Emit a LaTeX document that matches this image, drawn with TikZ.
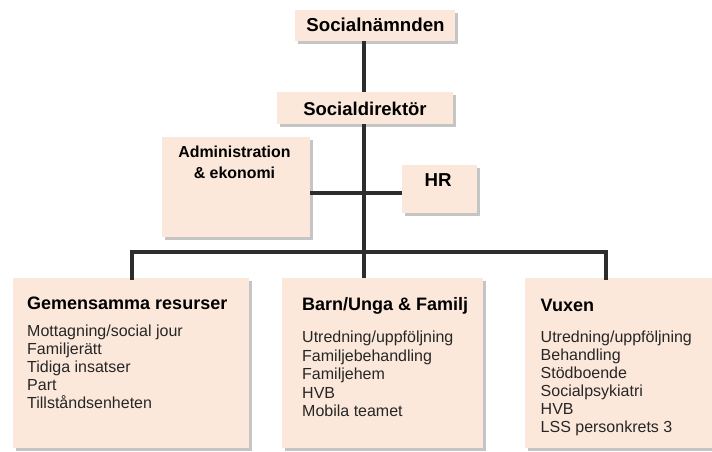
\documentclass[tikz,border=0pt]{standalone}
\usepackage{fontspec}
\setmainfont{Liberation Sans}
\usetikzlibrary{shadows}
\definecolor{peach}{RGB}{252,232,218}
\definecolor{linec}{RGB}{45,45,45}
\tikzset{
  box/.style={fill=peach, draw=none, inner sep=0pt, outer sep=0pt,
    drop shadow={shadow xshift=2.5pt, shadow yshift=-2.5pt, fill=black!45}},
  conn/.style={draw=linec, line width=3.5pt},
  head/.style={font=\fontsize{18.7}{21}\selectfont\bfseries, inner sep=0pt},
  small/.style={font=\fontsize{15.9}{19}\selectfont\bfseries, inner sep=0pt},
  ttl/.style={font=\fontsize{18}{21}\selectfont\bfseries, inner sep=0pt, anchor=base west},
  item/.style={font=\fontsize{16}{18}\selectfont, inner sep=0pt, anchor=base west, text=black!85},
}
\begin{document}
\begin{tikzpicture}[x=1pt,y=-1pt]
\useasboundingbox (0,0) rectangle (712,451);
\fill[white] (0,0) rectangle (712,451);
\clip (0,0) rectangle (712,451);
% boxes
\node[box, minimum width=160pt, minimum height=31pt] (top) at (375,25.5) {};
\node[box, minimum width=176pt, minimum height=32pt] (dir) at (365,108) {};
\node[box, minimum width=148pt, minimum height=100pt] (adm) at (236,187) {};
\node[box, minimum width=75pt, minimum height=48pt] (hr) at (439.5,189) {};
\node[box, minimum width=236pt, minimum height=170pt] (gem) at (131,363) {};
\node[box, minimum width=201pt, minimum height=170pt] (barn) at (382.5,363) {};
\node[box, minimum width=190pt, minimum height=170pt] (vux) at (620,363) {};
% connectors
\coordinate (bus) at (364,252);
\draw[conn] (top.south -| bus) -- (dir.north -| bus);
\draw[conn] (dir.south -| bus) -- (bus);
\draw[conn] (adm.east |- 0,193) -- (hr.west |- 0,193);
\coordinate (bl) at (132,252);
\coordinate (br) at (606,252);
\draw[conn, line cap=rect] (bl |- gem.north) -- (bl) -- (br) -- (br |- vux.north);
\draw[conn] (bus) -- (bus |- barn.north);
% labels
\node[head, anchor=base] (ttop) at (375.5,31.5) {Socialnämnden};
\node[head, font=\fontsize{18.5}{21}\selectfont\bfseries, anchor=base] (tdir) at (365,115) {Socialdirektör};
\node[small, anchor=base] (tadm1) at (234.5,157.7) {Administration};
\node[small, anchor=base] (tadm2) at (234.5,178.3) {\&\ ekonomi};
\node[head, anchor=base] (thr) at (438,186) {HR};
% bottom texts
\node[ttl] (tg) at (27,309) {Gemensamma resurser};
\foreach \t [count=\i from 0] in {Mottagning/social jour, Familjerätt, Tidiga insatser, Part, Tillståndsenheten}
  \node[item] (g\i) at (27,336.5+18.1*\i) {\t};
\node[ttl] (tb) at (302,310.5) {Barn/Unga \& Familj};
\foreach \t [count=\i from 0] in {Utredning/uppföljning, Familjebehandling, Familjehem, HVB, Mobila teamet}
  \node[item] (b\i) at (302,342.5+18.5*\i) {\t};
\node[ttl] (tv) at (540.5,311) {Vuxen};
\foreach \t [count=\i from 0] in {Utredning/uppföljning, Behandling, Stödboende, Socialpsykiatri, HVB, LSS personkrets 3}
  \node[item] (v\i) at (540.5,342.5+17.9*\i) {\t};
\end{tikzpicture}
\end{document}
